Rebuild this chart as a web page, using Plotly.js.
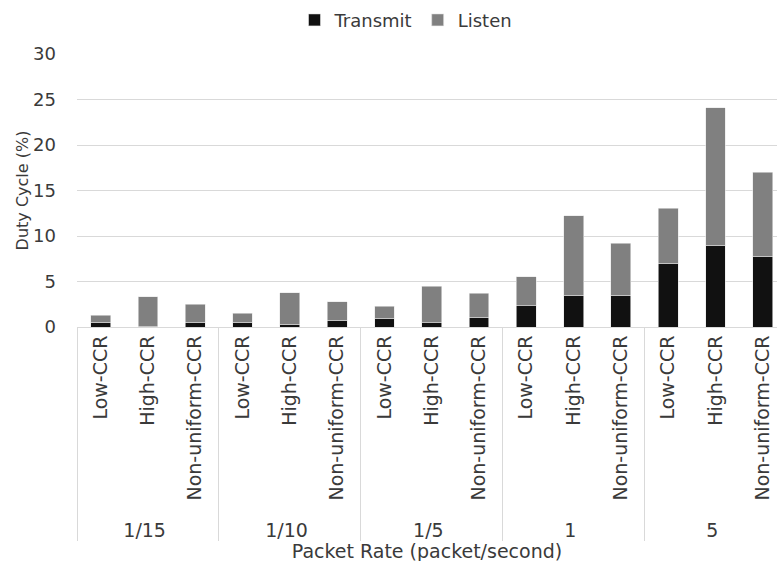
<!DOCTYPE html>
<html><head><meta charset="utf-8">
<script src="https://cdn.plot.ly/plotly-3.0.1.min.js"></script>
<style>html,body{margin:0;padding:0;overflow:hidden;background:#fff}</style>
</head><body>
<div id="chart" style="width:777px;height:561px"></div>
<script>
const rates = ["1/15","1/15","1/15","1/10","1/10","1/10","1/5","1/5","1/5","1","1","1","5","5","5"];
const configs = ["Low-CCR","High-CCR","Non-uniform-CCR","Low-CCR","High-CCR","Non-uniform-CCR","Low-CCR","High-CCR","Non-uniform-CCR","Low-CCR","High-CCR","Non-uniform-CCR","Low-CCR","High-CCR","Non-uniform-CCR"];
const transmit = [0.5, 0.1, 0.5, 0.5, 0.3, 0.75, 0.95, 0.45, 1.05, 2.35, 3.5, 3.5, 7.0, 9.0, 7.75];
const listen   = [0.8, 3.2, 2.0, 1.0, 3.45, 2.0, 1.35, 4.05, 2.65, 3.2, 8.7, 5.7, 6.05, 15.1, 9.25];

const fam = "DejaVu Sans, sans-serif";
const txt = "#3a3a3a";
const line = {color: "#e6e6e6", width: 0.6};
const data = [
  {type: "bar", name: "Transmit", x: [rates, configs], y: transmit, marker: {color: "#111111", line: line}},
  {type: "bar", name: "Listen", x: [rates, configs], y: listen, marker: {color: "#808080", line: line}}
];
const layout = {
  width: 777, height: 561,
  margin: {l: 77, r: 0, t: 54, b: 234},
  barmode: "stack", bargap: 0.58,
  paper_bgcolor: "#fff", plot_bgcolor: "#fff",
  font: {family: fam, color: txt, size: 16},
  showlegend: true,
  legend: {orientation: "h", x: 0.47, xanchor: "center", y: 0.964, yref: "container", yanchor: "middle",
           itemwidth: 30, font: {family: fam, size: 18, color: txt}, traceorder: "normal"},
  xaxis: {
    type: "multicategory", range: [-0.5, 14.3],
    tickangle: -90, tickfont: {family: fam, size: 19, color: txt},
    showdividers: true, dividercolor: "#d9d9d9", dividerwidth: 1,
    showline: true, linecolor: "#d9d9d9", linewidth: 1,
    ticks: "", showgrid: false,
    title: {text: "Packet Rate (packet/second)", font: {family: fam, size: 19, color: txt}, standoff: 4}
  },
  yaxis: {
    range: [0, 30], dtick: 5, showgrid: true, gridcolor: "#d9d9d9", gridwidth: 1,
    zeroline: false, ticks: "", tickfont: {family: fam, size: 18, color: txt}, ticklabelstandoff: 20,
    title: {text: "Duty Cycle (%)", font: {family: fam, size: 16, color: txt}, standoff: 0}
  }
};
Plotly.newPlot("chart", data, layout, {displayModeBar: false, staticPlot: true});
</script>
</body></html>
